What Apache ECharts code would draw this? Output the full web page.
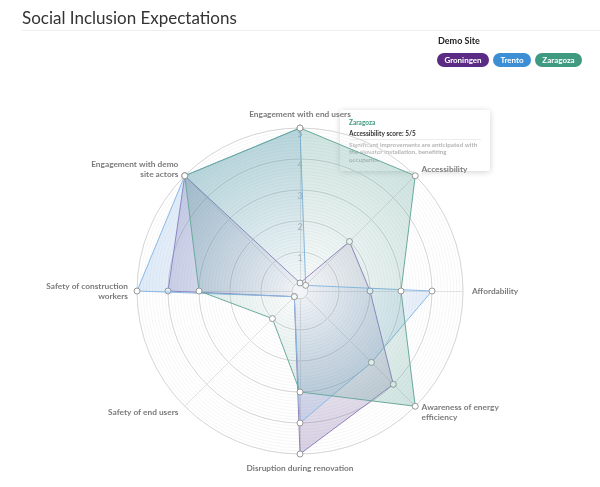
<!DOCTYPE html>
<html><head><meta charset="utf-8">
<script src="https://cdn.jsdelivr.net/npm/echarts@6/dist/echarts.min.js"></script>
<style>html,body{margin:0;padding:0;background:#fff}#c{width:600px;height:487px}</style>
</head><body><div id="c"></div>
<script>
const chartTitle = 'Social Inclusion Expectations';
const legendTitle = 'Demo Site';
// indicators in drawing order (ECharts places them counter-clockwise from the top)
const indicators = ['Engagement with end users', 'Engagement with demo\nsite actors', 'Safety of construction\nworkers', 'Safety of end users', 'Disruption during renovation', 'Awareness of energy\nefficiency', 'Affordability', 'Accessibility'];
const sites = ['Groningen', 'Trento', 'Zaragoza'];
const groningen = [0, 5, 4, 0, 5, 4, 2, 2];
const trento = [5, 5, 5, 0, 4, 3, 4, 0];
const zaragoza = [5, 5, 3, 1, 3, 5, 3, 5];
const maxScore = 5;
const tipSite = 'Zaragoza';
const tipTitle = 'Accessibility score: 5/5';
const tipText = 'Significant improvements are anticipated with\nthe elevator installation, benefiting\noccupants.';

const values = [groningen, trento, zaragoza];
const lineColors = ['#9a87c2', '#8dbbe6', '#6eac9e'];
const pillColors = ['#5b2a84', '#3d8fd5', '#3f9a81'];
const fillEdge = ['rgba(105,80,150,0.38)', 'rgba(110,165,225,0.32)', 'rgba(70,150,135,0.38)'];
const fillCenter = ['rgba(105,80,150,0.04)', 'rgba(110,165,225,0.03)', 'rgba(70,150,135,0.03)'];
const CX = 300, CY = 291, R0 = 8, R1 = 163;
const FONT = 'Lato, "Open Sans", sans-serif';

const chart = echarts.init(document.getElementById('c'));
const ctx = document.createElement('canvas').getContext('2d');
ctx.font = 'bold 8px ' + FONT;

const graphics = [
  { type: 'text', left: 22, top: 10, style: { text: chartTitle, font: '17px ' + FONT, fill: '#333' } },
  { type: 'rect', shape: { x: 22, y: 30, width: 578, height: 1 }, style: { fill: '#eeeeee' } },
  { type: 'text', x: 438, y: 37, style: { text: legendTitle, font: 'bold 9px ' + FONT, fill: '#222' } }
];
let px = 437;
sites.forEach((s, i) => {
  const w = Math.round(ctx.measureText(s).width) + 15;
  graphics.push({ type: 'rect', shape: { x: px, y: 53, width: w, height: 14, r: 7 }, style: { fill: pillColors[i] } });
  graphics.push({ type: 'text', x: px + w / 2, y: 60, style: { text: s, font: 'bold 8px ' + FONT, fill: '#fff', align: 'center', verticalAlign: 'middle' } });
  px += w + 4;
});
// tooltip box
graphics.push({
  type: 'group', x: 340, y: 110, z: 100, children: [
    { type: 'rect', shape: { x: 0, y: 0, width: 150, height: 61, r: 2 }, style: { fill: '#fff', shadowBlur: 6, shadowColor: 'rgba(0,0,0,0.18)', shadowOffsetY: 1 } },
    { type: 'polygon', shape: { points: [[74, 61], [84, 61], [79, 66]] }, style: { fill: '#fff' } },
    { type: 'text', x: 9, y: 9, style: { text: tipSite, font: 'bold 6.5px ' + FONT, fill: pillColors[2] } },
    { type: 'text', x: 9, y: 20, style: { text: tipTitle, font: 'bold 6.5px ' + FONT, fill: '#333' } },
    { type: 'rect', shape: { x: 9, y: 29, width: 132, height: 0.7 }, style: { fill: '#e6e6e6' } },
    { type: 'text', x: 9, y: 31, style: { text: tipText, font: 'bold 6.3px ' + FONT, fill: '#b4b4b4', lineHeight: 7.5 } }
  ]
});

const option = {
  animation: false,
  graphic: graphics,
  radar: [
    {
      center: [CX, CY], radius: [R0, R1], startAngle: 90, shape: 'circle', splitNumber: 50,
      indicator: indicators.map(() => ({ name: '', min: 0, max: maxScore })),
      axisName: { show: false }, axisLine: { show: false }, axisLabel: { show: false },
      splitArea: { show: false }, splitLine: { lineStyle: { color: '#f0f0f0', width: 0.6 } }, z: 0
    },
    {
      center: [CX, CY], radius: [R0, R1], startAngle: 90, shape: 'circle', splitNumber: 5,
      indicator: indicators.map((n, i) => i === 0
        ? { name: n, min: 0, max: maxScore, axisLabel: { show: true } }
        : { name: n, min: 0, max: maxScore }),
      nameGap: 9,
      axisName: { color: '#7a7a7a', fontSize: 8.3, fontWeight: 'bold', fontFamily: FONT, lineHeight: 10 },
      axisLine: { lineStyle: { color: '#e2e2e2' } },
      splitArea: { show: false },
      splitLine: { lineStyle: { color: '#d6d6d6' } },
      axisLabel: { show: false, color: '#b8b8b8', fontSize: 9, fontFamily: FONT, margin: 0, align: 'center', verticalAlign: 'top', padding: [2, 0, 0, 0], showMinLabel: false, formatter: v => v === 0 ? '' : v },
      z: 1
    }
  ],
  series: sites.map((s, i) => ({
    type: 'radar', radarIndex: 1, name: s, z: 2 + i,
    symbol: 'circle', symbolSize: 6,
    itemStyle: { color: '#fff', borderColor: '#999', borderWidth: 1 },
    lineStyle: { color: lineColors[i], width: 1 },
    areaStyle: { color: { type: 'radial', x: CX, y: CY, r: R1, global: true, colorStops: [{ offset: 0, color: fillCenter[i] }, { offset: 1, color: fillEdge[i] }] } },
    data: [{ name: s, value: values[i] }]
  }))
};
chart.setOption(option);
</script></body></html>
